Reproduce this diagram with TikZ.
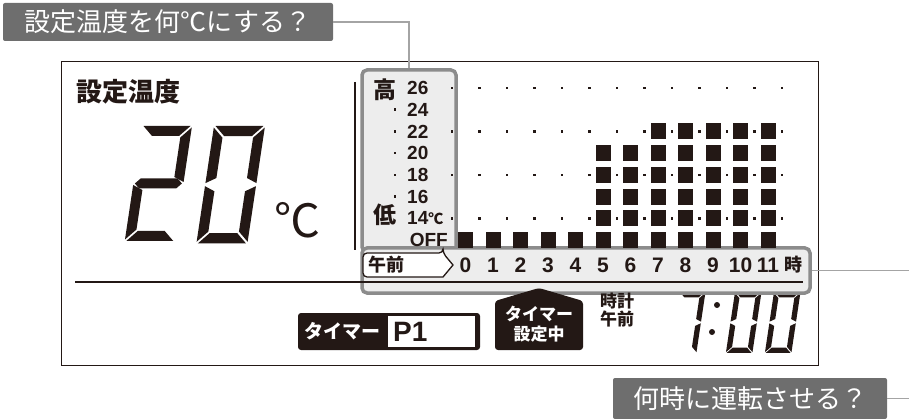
\documentclass[tikz,border=0pt]{standalone}
\usepackage{xcolor}
\usepackage{fontspec}
\setmainfont{Liberation Sans}
\newfontfamily\jp{Noto Sans CJK JP}
\usepackage{tikz}
\usetikzlibrary{positioning}
\usetikzlibrary{calc}

\definecolor{lcdblack}{HTML}{231815}
\definecolor{labelgray}{HTML}{6E6E6E}
\definecolor{framegray}{HTML}{8C8C8C}
\definecolor{framefill}{HTML}{EDEDED}
\definecolor{linegray}{HTML}{A4A4A4}

% segments of one lcd digit (1 wide, 2.3 high, y downwards)
\newcommand{\segA}{\fill[lcd] (0.03,0) -- (0.97,0) -- (0.77,0.2) -- (0.23,0.2) -- cycle;}
\newcommand{\segB}{\fill[lcd] (1,0.03) -- (1,1.12) -- (0.8,1.02) -- (0.8,0.23) -- cycle;}
\newcommand{\segC}{\fill[lcd] (1,1.18) -- (1,2.27) -- (0.8,2.07) -- (0.8,1.28) -- cycle;}
\newcommand{\segD}{\fill[lcd] (0.03,2.3) -- (0.97,2.3) -- (0.77,2.1) -- (0.23,2.1) -- cycle;}
\newcommand{\segE}{\fill[lcd] (0,1.18) -- (0.2,1.28) -- (0.2,2.07) -- (0,2.27) -- cycle;}
\newcommand{\segF}{\fill[lcd] (0,0.03) -- (0.2,0.23) -- (0.2,1.02) -- (0,1.12) -- cycle;}
\newcommand{\segG}{\fill[lcd] (0.03,1.15) -- (0.13,1.05) -- (0.87,1.05) -- (0.97,1.15) -- (0.87,1.25) -- (0.13,1.25) -- cycle;}
\newcommand{\lcddigit}[3]{\begin{scope}[shift={#1},scale=#2,xslant=0.15]#3\end{scope}}

\begin{document}
\begin{tikzpicture}[
		x=1pt,
		y=-1pt,
		font=\jp,
		lcd/.style={fill=lcdblack},
		frame/.style={draw=framegray, line width=3.5, fill=framefill, rounded corners=5, inner sep=0},
		conn/.style={draw=linegray, line width=1.5}
	]
		\tikzset{
			question/.style={
				fill=labelgray,
				text=white,
				rounded corners=2,
				inner sep=0,
				font=\jp\fontsize{26pt}{28pt}\selectfont
			},
			tempnum/.style={
				inner sep=0,
				anchor=west,
				text=lcdblack,
				font=\bfseries\fontsize{19pt}{19pt}\selectfont
			},
			hour/.style={
				inner sep=0,
				text=lcdblack,
				font=\bfseries\fontsize{21pt}{21pt}\selectfont
			},
			jpbold/.style={
				inner sep=0,
				font=\jp\bfseries\fontsize{#1pt}{#1pt}\selectfont
			}
		}

		\useasboundingbox (0,0) rectangle (909,419);

		% display outline
		\node[draw=lcdblack, line width=0.8, minimum width=757, minimum height=304, inner sep=0] (display) at (439.5,213) {};

		% set temperature
		\node[jpbold=26, text=lcdblack] (settemp) at (128,92) {設定温度};
		\lcddigit{(142,126)}{50}{\segA\segB\segG\segE\segD}
		\lcddigit{(214,126)}{51}{\segA\segB\segC\segD\segE\segF}
		\node[inner sep=0, text=lcdblack, font=\jp\fontsize{46pt}{46pt}\selectfont] (unit) at (297,220) {℃};

		% clock
		\lcddigit{(679,292)}{26.5}{\segA\segB\segC}
		\fill[lcd] (717,305) circle (3);
		\fill[lcd] (712,332) circle (3);
		\lcddigit{(735,292)}{26.5}{\segA\segB\segC\segD\segE\segF}
		\lcddigit{(774,292)}{26.5}{\segA\segB\segC\segD\segE\segF}

		% frames
		\node[frame, minimum width=94, minimum height=182] (tempframe) at (409,161) {};
		\node[frame, minimum width=448, minimum height=45] (timeframe) at (586,270.5) {};

		\draw[lcdblack, line width=2] (355,82) -- (355,250);
		\draw[lcdblack, line width=1.5] (75,282) -- (803,282);

		% temperature scale
		\node[jpbold=23, text=lcdblack] (high) at (385,90) {高};
		\node[jpbold=23, text=lcdblack] (low) at (385,215) {低};
		\foreach \t/\k in {16/2,18/3,20/4,22/5,24/6,26/7}
			\node[tempnum] (t\t) at (407,{240-21.7*\k}) {\t};
		\node[tempnum] (t14) at (407,218.3) {14{\jp\fontsize{15pt}{15pt}\selectfont ℃}};
		\node[tempnum, anchor=east] (toff) at (448,240) {OFF};
		\foreach \k in {2,...,6}
			\fill[lcd] (393.7,{238.7-21.7*\k}) rectangle ++(2.6,2.6);

		% grid dots and bars
		\foreach \row in {1,3,5,7}
			\foreach \i in {0,...,12}
				\fill[lcd] ({450.7+27.5*\i},{238.7-21.7*\row}) rectangle ++(2.6,2.6);
		\foreach \col/\lev in {0/1,1/1,2/1,3/1,4/1,5/5,6/5,7/6,8/6,9/6,10/6,11/6}
			\foreach \row in {1,...,\lev}
				\fill[lcd] ({458+27.5*\col},{232-21.7*(\row-1)}) rectangle ++(15,16);

		% hours
		\draw[lcdblack, line width=1.3, fill=white]
			(443,253) -- (453,265) -- (443,277) [rounded corners=4] -- (363,277) -- (363,253) -- (443,253) -- cycle;
		\node[jpbold=18, text=lcdblack, anchor=west] (am) at (368,265) {午前};
		\foreach \h in {0,...,11}
			\node[hour] (h\h) at ({465.5+27.5*\h},265) {\h};
		\node[jpbold=18, text=lcdblack] (hourunit) at (793,265) {時};

		% timer
		\node[fill=lcdblack, rounded corners=3, minimum width=182, minimum height=37, inner sep=0] (timer) at (389,331.5) {};
		\node[fill=white, minimum width=87, minimum height=31, inner sep=0] (p1box) at (431.5,331.5) {};
		\node[jpbold=19, text=white] (timerlbl) at (342,331) {タイマー};
		\node[inner sep=0, anchor=west, text=lcdblack, font=\bfseries\fontsize{28pt}{28pt}\selectfont] (p1) at (393,332) {P1};

		\fill[lcd, rounded corners=3] (495,350) -- (495,301) -- (539,288) -- (583,301) -- (583,350) -- cycle;
		\node[jpbold=17, text=white, align=center, font=\jp\bfseries\fontsize{17pt}{20pt}\selectfont] (timerset) at (539,324) {タイマー\\設定中};

		\node[jpbold=17, text=lcdblack, align=left, anchor=west, font=\jp\bfseries\fontsize{17pt}{17.5pt}\selectfont] (clock) at (600,310) {時計\\午前};

		% questions
		\node[question, minimum width=330, minimum height=38] (qtemp) at (168,22) {設定温度を何℃にする？};
		\node[question, minimum width=274, minimum height=41] (qtime) at (750,398.5) {何時に運転させる？};

		\draw[conn] (qtemp.east) -| (tempframe.north);
		\draw[conn] (timeframe.east) -- ++(97.5,0) |- (qtime.east);
	\end{tikzpicture}
\end{document}
